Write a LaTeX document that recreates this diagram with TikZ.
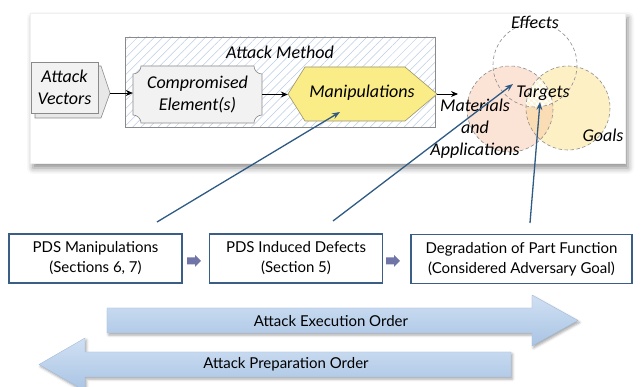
\documentclass[tikz,border=0pt]{standalone}
\usepackage{fontspec}
\setmainfont{Carlito}
\newfontfamily\boxfont{Lato}
\usetikzlibrary{arrows.meta,shadows.blur,patterns.meta}

\definecolor{hatchblue}{HTML}{BACDE6}
\definecolor{frame}{HTML}{8A8A8A}
\definecolor{manifill}{HTML}{FAEC86}
\definecolor{manline}{HTML}{9A9470}
\definecolor{plaque}{HTML}{F2F2F2}
\definecolor{salmon}{HTML}{FBE3D6}
\definecolor{paleyel}{HTML}{FDF0C5}
\definecolor{overlap}{HTML}{FADDB5}
\definecolor{pointer}{HTML}{2E5A84}
\definecolor{boxline}{HTML}{3B5E86}
\definecolor{steparrow}{HTML}{7075A8}
\definecolor{bandtop}{HTML}{D0E0F3}
\definecolor{bandbot}{HTML}{A9C4E4}
\definecolor{bandline}{HTML}{A3BBDA}

\tikzset{
  toplabel/.style={font=\itshape\fontsize{18}{22}\selectfont, align=center, inner sep=0pt},
  flowarrow/.style={-{Stealth[length=7pt,width=6pt]}, line width=0.9pt, black},
  pointerline/.style={-{Stealth[length=8pt,width=6pt]}, line width=1.3pt, pointer},
  pdsbox/.style={draw=boxline, line width=1.3pt, fill=white, minimum height=49pt,
    align=center, inner sep=2pt, font=\boxfont\fontsize{15}{20}\selectfont},
  stepmark/.style={fill=steparrow},
  band/.style={top color=bandtop, bottom color=bandbot, draw=bandline, line width=0.4pt,
    blur shadow={shadow xshift=1.5pt, shadow yshift=-2pt, shadow blur radius=2.5pt, shadow opacity=35}},
  bandlabel/.style={font=\boxfont\fontsize{15}{18}\selectfont, inner sep=0pt},
  venn/.style={draw=black!45, line width=0.6pt, dash pattern=on 3.5pt off 2.5pt},
}

\begin{document}
\begin{tikzpicture}[x=1pt,y=-1pt]
\useasboundingbox (0,0) rectangle (641,387);

% upper panel with soft shadow
\path[fill=white, draw=black!6,
  blur shadow={shadow xshift=3pt, shadow yshift=-5pt, shadow blur radius=6pt, shadow opacity=45}]
  (30,13) rectangle (625,163);

% attack method frame (hatched)
\path[fill=white] (125,37) rectangle (435,127);
\path[pattern={Lines[angle=45,distance=6pt,line width=0.5pt]}, pattern color=hatchblue]
  (125,37) rectangle (435,127);
\draw[frame, line width=0.7pt] (125,37) rectangle (435,127);
\node[toplabel] (amlabel) at (280,52) {Attack Method};

% attack vectors: stacked sheet with pointed back sheet
\draw[frame, line width=0.6pt, fill=black!9] (35,66) -- (101,66) -- (110,93) -- (101,118) -- (35,118) -- cycle;
\node[draw=frame, line width=0.6pt, fill=plaque, minimum width=67pt, minimum height=51pt,
  toplabel] (av) at (64.5,87.5) {Attack\\Vectors};
\coordinate (avtip) at (110,93);

% compromised element(s): plaque with concave corners
\node[minimum width=129pt, minimum height=57pt, inner sep=0pt] (ce) at (197.5,94.5) {};
\draw[frame, line width=0.6pt, fill=plaque]
  (141,66) -- (254,66) .. controls (254,70.4) and (257.6,74) .. (262,74)
  -- (262,115) .. controls (257.6,115) and (254,118.6) .. (254,123)
  -- (141,123) .. controls (141,118.6) and (137.4,115) .. (133,115)
  -- (133,74) .. controls (137.4,74) and (141,70.4) .. (141,66) -- cycle;
\node[toplabel] (cetext) at (ce.center) {Compromised\\Element(s)};

% manipulations hexagon
\node[minimum width=149pt, minimum height=54pt, inner sep=0pt] (mp) at (362.5,94) {};
\draw[manline, line width=0.6pt, fill=manifill]
  (288,94) -- (305,67) -- (405,67) -- (437,94) -- (405,121) -- (305,121) -- cycle;
\node[toplabel] (mptext) at (362,93) {Manipulations};

% flow arrows
\draw[flowarrow] (avtip) -- (avtip -| ce.west);
\draw[flowarrow] (ce.east) -- (ce.east -| mp.west);
\coordinate (matin) at (458,94);
\draw[flowarrow] (mp.east) -- (matin);

% venn diagram
\coordinate (cE) at (535,65);
\coordinate (cM) at (510,109);
\coordinate (cG) at (568,108);
\fill[salmon] (cM) circle[radius=43];
\fill[paleyel] (cG) circle[radius=42];
\begin{scope}
  \clip (cM) circle[radius=43];
  \fill[overlap] (cG) circle[radius=42];
\end{scope}
\begin{scope}
  \clip (cM) circle[radius=43];
  \clip (cG) circle[radius=42];
  \fill[paleyel!70!white] (cE) circle[radius=42];
  \fill[pattern={Hatch[angle=45,distance=4pt,line width=1.2pt]}, pattern color=white]
    (cE) circle[radius=42];
\end{scope}
\draw[venn] (cE) circle[radius=42];
\draw[venn] (cM) circle[radius=43];
\draw[venn] (cG) circle[radius=42];

\node[toplabel] (effects) at (535,22) {Effects};
\node[toplabel] (targets) at (543,93) {Targets};
\node[toplabel] (goals) at (603,135) {Goals};
\node[toplabel] (materials) at (475,129) {Materials\\and\\Applications};

% lower chain of boxes
\node[pdsbox, minimum width=173pt] (b1) at (95.5,258.5) {PDS Manipulations\\(Sections 6, 7)};
\node[pdsbox, minimum width=173pt] (b2) at (296,258.5) {PDS Induced Defects\\(Section 5)};
\node[pdsbox, minimum width=221pt] (b3) at (521.5,259) {Degradation of Part Function\\(Considered Adversary Goal)};

% block arrows between the boxes
\coordinate (s1) at (187,261);
\coordinate (s2) at (386,261);
\foreach \c in {s1,s2}
  \fill[stepmark] (\c) ++(0,-3.5) -- ++(8,0) -- ++(0,-2.5) -- ++(6,6) -- ++(-6,6)
    -- ++(0,-2.5) -- ++(-8,0) -- cycle;

% pointers from the boxes up to the model
\coordinate (p1s) at (157,222);
\coordinate (p1e) at (340,112);
\coordinate (p2s) at (333,221);
\coordinate (p2e) at (513,84);
\coordinate (p3s) at (530,223);
\coordinate (p3e) at (540,102);
\draw[pointerline] (p1s) -- (p1e);
\draw[pointerline] (p2s) -- (p2e);
\draw[pointerline] (p3s) -- (p3e);

% order bands
\shade[band] (107,308) -- (532,308) -- (532,295) -- (578,320.5) -- (532,346) -- (532,333) -- (107,333) -- cycle;
\node[bandlabel] (exec) at (331,321) {Attack Execution Order};
\shade[band] (511,352) -- (85,352) -- (85,338) -- (39,364.5) -- (85,391) -- (85,377) -- (511,377) -- cycle;
\node[bandlabel] (prep) at (286,364) {Attack Preparation Order};
\end{tikzpicture}
\end{document}
